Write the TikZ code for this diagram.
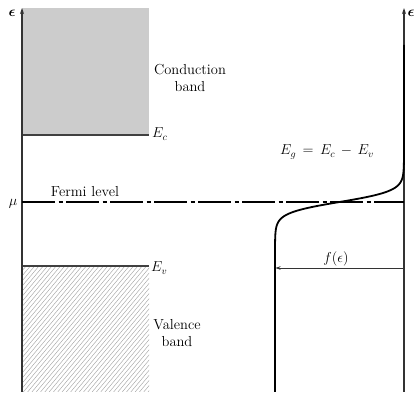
\documentclass[tikz,border=0pt]{standalone}
\usepackage{amsmath,amssymb,bm}
\usetikzlibrary{arrows.meta}
\begin{document}
\begin{tikzpicture}[x=1pt,y=-1pt,
  txt/.style={font=\fontsize{14.5}{16.5}\selectfont, inner sep=0pt, align=center},
  mth/.style={font=\fontsize{14}{16}\selectfont, inner sep=0pt},
  axis/.style={line width=1.3pt, draw=black!80, -{Stealth[length=6pt,width=4pt]}},
  level/.style={line width=1.2pt, draw=black!75},
  fermi/.style={line width=2.4pt, draw=black, dash pattern=on 33pt off 3.5pt on 4pt off 3.5pt},
  curve/.style={line width=1.8pt, draw=black, line join=round}]
\useasboundingbox (0,0) rectangle (416,393);
% conduction band
\fill[gray!40] (22,8) rectangle (149,135);
% valence band hatching
\begin{scope}
  \clip (22,266) rectangle (149,392);
  \foreach \x in {-110,-105.7,...,150}
    \draw[gray!70, line width=0.45pt] (\x,392) -- (\x+106,266);
\end{scope}
% band edges
\coordinate (ecl) at (22,135); \coordinate (ecr) at (149,135);
\coordinate (evl) at (22,266); \coordinate (evr) at (149,266);
\draw[level] (ecl) -- (ecr);
\draw[level] (evl) -- (evr);
% left axis
\coordinate (la0) at (22,392); \coordinate (la1) at (22,8);
\draw[axis] (la0) -- (la1);
\node[mth] (epsl) at (12,13) {$\bm{\epsilon}$};
% right axis
\coordinate (ra0) at (404,392); \coordinate (ra1) at (404,8);
\draw[axis] (ra0) -- (ra1);
\node[mth] (epsr) at (411,13) {$\bm{\epsilon}$};
% Fermi level
\coordinate (fl) at (22,202); \coordinate (fr) at (404,202);
\draw[fermi] (fl) -- (fr);
\node[mth] (mu) at (13,204) {$\mu$};
\node[txt, anchor=base] (fermitxt) at (85,197) {Fermi level};
% labels
\node[txt] (cb) at (190,78) {Conduction\\band};
\node[txt] (vb) at (177,333) {Valence\\band};
\node[mth, anchor=base west] (ec) at (152,138) {$E_c$};
\node[mth, anchor=base west] (ev) at (151,272) {$E_v$};
\node[mth] (eg) at (327,152) {$E_g \mathrel{\,=\,} E_c \mathbin{\,-\,} E_v$};
% Fermi-Dirac curve
\coordinate (cbot) at (275,392); \coordinate (ctop) at (404,45);
\draw[curve] (cbot) -- (275,260)
  -- plot[domain=260:160, samples=120, variable=\t]
     ({404-129/(1+exp((202-\t)/5.5))}, {\t})
  -- (ctop);
% f(eps) arrow
\coordinate (fa0) at (404,268); \coordinate (fa1) at (275.5,268);
\draw[line width=0.9pt, draw=black!80, -{Stealth[length=5pt,width=3.5pt]}] (fa0) -- (fa1);
\node[mth] (feps) at (336,259) {$f(\epsilon)$};
\end{tikzpicture}
\end{document}
